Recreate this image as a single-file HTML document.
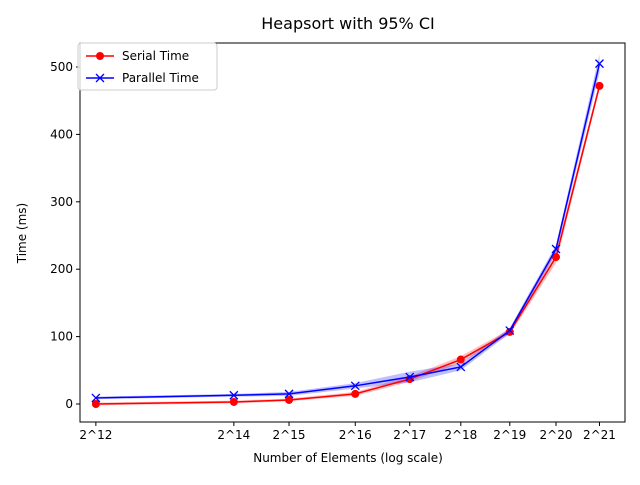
<!DOCTYPE html>
<html><head><meta charset="utf-8">
<style>
body{margin:0;background:#fff;font-family:"Liberation Sans","DejaVu Sans",sans-serif;}
svg text{font-family:"DejaVu Sans","Liberation Sans",sans-serif;}
</style></head>
<body>
<svg id="chart" width="640" height="480" xmlns="http://www.w3.org/2000/svg">
<rect width="640" height="480" fill="#fff"/>
<g id="bands"></g><g id="lines"></g><g id="axes"></g>
<text x="348" y="29" font-size="16" text-anchor="middle">Heapsort with 95% CI</text>
<text x="348" y="462" font-size="12" text-anchor="middle">Number of Elements (log scale)</text>
<text x="26" y="233" font-size="12" text-anchor="middle" transform="rotate(-90 26 233)">Time (ms)</text>
<g>
<rect x="78" y="43" width="139" height="47" rx="3" fill="#fff" fill-opacity="0.8" stroke="#ccc"/>
<line x1="86" y1="56" x2="114" y2="56" stroke="red" stroke-width="1.5"/>
<circle cx="100" cy="56" r="4" fill="red"/>
<text x="122" y="60" font-size="12">Serial Time</text>
<line x1="86" y1="78" x2="114" y2="78" stroke="blue" stroke-width="1.5"/>
<path d="M96,74L104,82M104,74L96,82" stroke="blue" stroke-width="1.3"/>
<text x="122" y="82" font-size="12">Parallel Time</text>
</g>
</svg>
<script>
const xLabels = ["2^12","2^14","2^15","2^16","2^17","2^18","2^19","2^20","2^21"];
const xPos = [12, 14, 14.8, 15.76, 16.55, 17.29, 18.0, 18.67, 19.3];
const serial = [0, 3, 6, 15, 37, 66, 107, 218, 472];
const serialCI = [2, 2, 2, 3, 4, 5, 4, 9, 6];
const parallel = [9, 13, 15, 27, 40, 55, 109, 230, 505];
const parallelCI = [2, 2, 3, 4, 8, 5, 4, 6, 14];
const yTicks = [0, 100, 200, 300, 400, 500];

const L=80,R=625,T=43,B=422;
const xMin=11.77,xMax=19.67,yMin=-26.7,yMax=535.6;
const X=v=>L+(v-xMin)/(xMax-xMin)*(R-L);
const Y=v=>B-(v-yMin)/(yMax-yMin)*(B-T);
const NS="http://www.w3.org/2000/svg";
function mk(tag,attrs,parent){const e=document.createElementNS(NS,tag);for(const k in attrs)e.setAttribute(k,attrs[k]);parent.appendChild(e);return e;}
const bands=document.getElementById('bands'),lines=document.getElementById('lines'),axes=document.getElementById('axes');

function band(vals,ci,color,name){
  let up=vals.map((v,i)=>X(xPos[i])+","+Y(v+ci[i]));
  let dn=vals.map((v,i)=>X(xPos[i])+","+Y(v-ci[i])).reverse();
  const p=mk('polygon',{points:up.concat(dn).join(' '),fill:color,'fill-opacity':0.25},bands);
  
  
}
band(serial,serialCI,'red','serial-ci-band');
band(parallel,parallelCI,'blue','parallel-ci-band');

function series(vals,color,marker,name){
  const pl=mk('polyline',{points:vals.map((v,i)=>X(xPos[i])+","+Y(v)).join(' '),fill:'none',stroke:color,'stroke-width':1.5},lines);
  
  
  vals.forEach((v,i)=>{
    const x=X(xPos[i]),y=Y(v);let m;
    if(marker==='o'){m=mk('circle',{cx:x,cy:y,r:4,fill:color},lines);}
    else{m=mk('path',{d:`M${x-4},${y-4}L${x+4},${y+4}M${x+4},${y-4}L${x-4},${y+4}`,stroke:color,'stroke-width':1.3},lines);}
    
    
  });
}
series(serial,'red','o','serial');
series(parallel,'blue','x','parallel');

const frame=mk('rect',{x:L,y:T,width:R-L,height:B-T,fill:'none',stroke:'#000','stroke-width':1},axes);


xLabels.forEach((lab,i)=>{
  const x=X(xPos[i]);
  mk('line',{x1:x,y1:B,x2:x,y2:B+4,stroke:'#000'},axes);
  const t=mk('text',{x:x,y:B+17,'font-size':12,'text-anchor':'middle'},axes);
  t.textContent=lab;
  
  
});
yTicks.forEach(v=>{
  const y=Y(v);
  mk('line',{x1:L-4,y1:y,x2:L,y2:y,stroke:'#000'},axes);
  const t=mk('text',{x:L-7,y:y+4,'font-size':12,'text-anchor':'end'},axes);
  t.textContent=v;
  
  
});
</script>
</body></html>
